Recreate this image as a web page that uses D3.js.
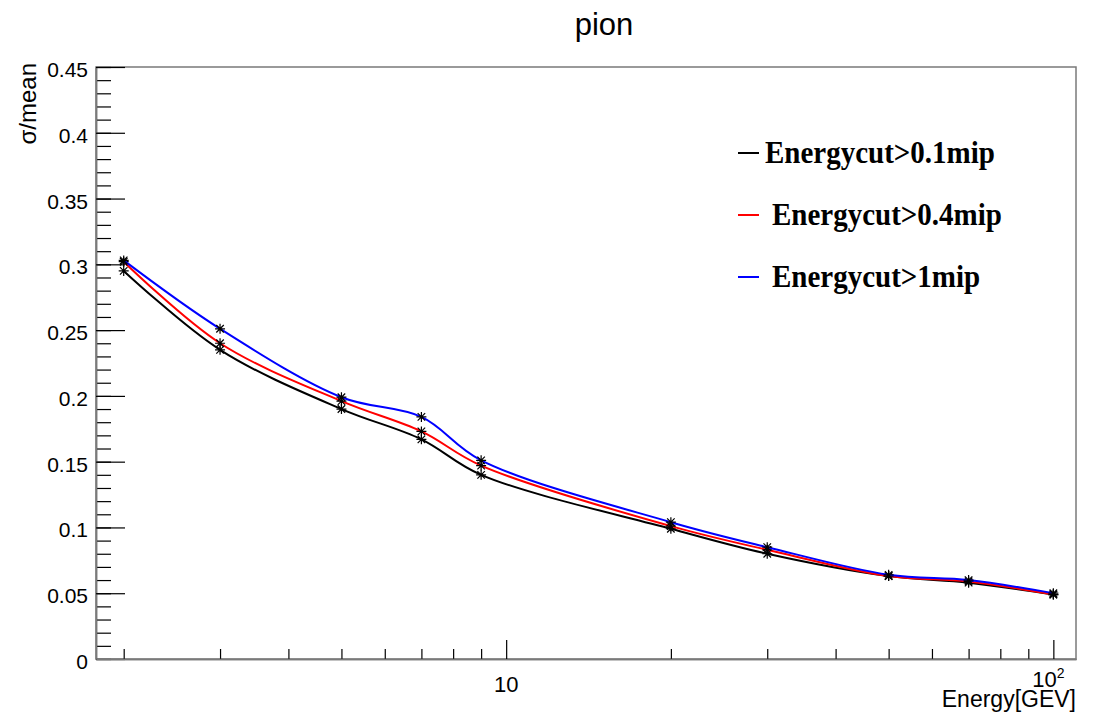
<!DOCTYPE html>
<html>
<head>
<meta charset="utf-8">
<script src="https://cdn.jsdelivr.net/npm/d3@7"></script>
<style>
  body { margin: 0; background: #fff; }
  svg { display: block; }
  .axis text { font-family: "Liberation Sans", Arial, sans-serif; font-size: 21px; fill: #000; }
  .axis .domain { stroke: #7a7a7a; stroke-width: 1.5; }
  .axis .tick line { stroke: #000; stroke-width: 1.2; }
</style>
</head>
<body>
<script>
// ---- data ----
const energies = [2, 3, 5, 7, 9, 20, 30, 50, 70, 100];          // GeV
const cut01 = [0.295, 0.235, 0.190, 0.167, 0.140, 0.099, 0.080, 0.063, 0.058, 0.049];
const cut04 = [0.302, 0.240, 0.196, 0.173, 0.147, 0.101, 0.083, 0.063, 0.059, 0.049];
const cut1  = [0.303, 0.251, 0.199, 0.184, 0.151, 0.104, 0.085, 0.064, 0.060, 0.050];
const seriesNames = ["Energycut>0.1mip", "Energycut>0.4mip", "Energycut>1mip"];
const seriesColors = ["#000000", "#ff0000", "#0000ff"];
const yMajor = [0, 0.05, 0.1, 0.15, 0.2, 0.25, 0.3, 0.35, 0.4, 0.45];
const yMinor = d3.range(0, 0.451, 0.01);
const xMinor = [2, 3, 4, 5, 6, 7, 8, 9, 20, 30, 40, 50, 60, 70, 80, 90];
const xMajor = [10, 100];

const width = 1107, height = 714;
const frame = { left: 96, right: 1076, top: 67, bottom: 659 };

const svg = d3.select("body").append("svg")
  .attr("width", width)
  .attr("height", height);

const x = d3.scaleLog().domain([1.78, 110]).range([frame.left, frame.right]);
const y = d3.scaleLinear().domain([0, 0.45]).range([frame.bottom, frame.top]);

// frame
svg.append("rect")
  .attr("x", frame.left).attr("y", frame.top)
  .attr("width", frame.right - frame.left).attr("height", frame.bottom - frame.top)
  .attr("fill", "none").attr("stroke", "#7a7a7a").attr("stroke-width", 1.5);

// y axis: minor then major (with labels)
svg.append("g").attr("class", "axis")
  .attr("transform", `translate(${frame.left},0)`)
  .call(d3.axisLeft(y).tickValues(yMinor).tickSizeInner(-15).tickSizeOuter(0).tickFormat(""));
const yAx = svg.append("g").attr("class", "axis")
  .attr("transform", `translate(${frame.left},0)`)
  .call(d3.axisLeft(y).tickValues(yMajor).tickSizeInner(-29).tickSizeOuter(0).tickPadding(8)
    .tickFormat(d => String(+d.toFixed(2))));
yAx.selectAll("text").attr("dy", "0.45em");

// x axis (log)
svg.append("g").attr("class", "axis")
  .attr("transform", `translate(0,${frame.bottom})`)
  .call(d3.axisBottom(x).tickValues(xMinor).tickSizeInner(-10).tickSizeOuter(0).tickFormat(""));
svg.append("g").attr("class", "axis")
  .attr("transform", `translate(0,${frame.bottom})`)
  .call(d3.axisBottom(x).tickValues(xMajor).tickSizeInner(-19).tickSizeOuter(0).tickFormat(""));

const lab = svg.append("g")
  .attr("font-family", "Liberation Sans, Arial, sans-serif")
  .attr("fill", "#000");
lab.append("text")
  .attr("x", x(10)).attr("y", 692)
  .attr("text-anchor", "middle").attr("font-size", 22)
  .text("10");
const hundred = lab.append("text")
  .attr("x", x(100) - 5).attr("y", 687)
  .attr("text-anchor", "middle").attr("font-size", 22);
hundred.append("tspan").text("10");
hundred.append("tspan").attr("font-size", 14).attr("dy", -9).text("2");

// axis titles
lab.append("text")
  .attr("x", frame.right).attr("y", 707)
  .attr("text-anchor", "end").attr("font-size", 23)
  .text("Energy[GEV]");
lab.append("text")
  .attr("transform", `translate(36,63) rotate(-90)`)
  .attr("text-anchor", "end").attr("font-size", 24)
  .text("σ/mean");

// title
lab.append("text")
  .attr("x", 604).attr("y", 35)
  .attr("text-anchor", "middle").attr("font-size", 31)
  .text("pion");

// curves
const allSeries = [cut01, cut04, cut1];
const line = d3.line()
  .x((d, i) => x(energies[i]))
  .y(d => y(d))
  .curve(d3.curveCatmullRom.alpha(0.5));

const star = r => `M${-r},0L${r},0M0,${-r}L0,${r}` +
  `M${-r * 0.75},${-r * 0.75}L${r * 0.75},${r * 0.75}M${-r * 0.75},${r * 0.75}L${r * 0.75},${-r * 0.75}`;

allSeries.forEach((vals, s) => {
  svg.append("path")
    .datum(vals)
    .attr("d", line)
    .attr("fill", "none")
    .attr("stroke", seriesColors[s])
    .attr("stroke-width", 2);
  svg.append("g").selectAll("path")
    .data(vals)
    .enter().append("path")
    .attr("transform", (d, i) => `translate(${x(energies[i])},${y(d)})`)
    .attr("d", star(5))
    .attr("stroke", "#000")
    .attr("stroke-width", 1.2)
    .attr("fill", "none");
});

// legend
const legY = [153, 215, 277];
const legTextX = [765, 772, 772];
const legend = svg.append("g");
seriesNames.forEach((name, i) => {
  legend.append("line")
    .attr("x1", 738).attr("x2", 759)
    .attr("y1", legY[i]).attr("y2", legY[i])
    .attr("stroke", seriesColors[i]).attr("stroke-width", 2);
  legend.append("text")
    .attr("transform", `translate(${legTextX[i]},${legY[i] + 10}) scale(1,1.1)`)
    .attr("font-family", "Liberation Serif, Times New Roman, serif")
    .attr("font-weight", "bold")
    .attr("font-size", 29)
    .attr("fill", "#000")
    .text(name);
});
</script>
</body>
</html>
